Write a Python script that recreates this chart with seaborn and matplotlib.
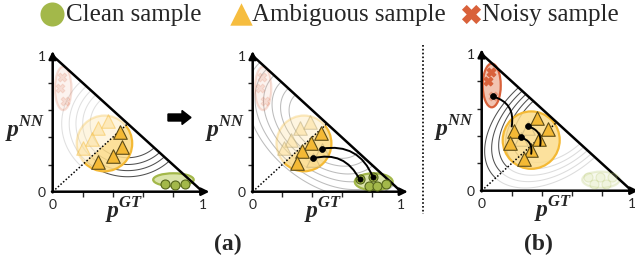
import numpy as np
import matplotlib
matplotlib.use('Agg')
import matplotlib.pyplot as plt
import matplotlib.patches as mpatches
import seaborn as sns

# ---- data ----
legend_labels = ['Clean sample', 'Ambiguous sample', 'Noisy sample']

# (a) left panel
clean_a1_x = [0.75, 0.815, 0.88]
clean_a1_y = [0.06, 0.05, 0.06]
amb_a1_x = [0.45, 0.46, 0.40, 0.30]
amb_a1_y = [0.44, 0.33, 0.26, 0.22]
amb_a1_ghost_x = [0.37, 0.30, 0.26, 0.20]
amb_a1_ghost_y = [0.52, 0.47, 0.385, 0.325]
noisy_ghost_x = [0.06, 0.05, 0.08]
noisy_ghost_y = [0.84, 0.76, 0.67]

# (a) right panel
amb_a2_x = [0.46, 0.39, 0.33, 0.30]
amb_a2_y = [0.43, 0.36, 0.30, 0.21]
amb_a2_ghost_x = [0.385, 0.32, 0.26, 0.21, 0.465, 0.405]
amb_a2_ghost_y = [0.515, 0.466, 0.38, 0.32, 0.31, 0.235]
clean_a2_x = [0.72, 0.81, 0.78, 0.84, 0.90]
clean_a2_y = [0.09, 0.106, 0.04, 0.04, 0.057]
move_a2_from = [(0.465, 0.316), (0.405, 0.245)]
move_a2_to = [(0.81, 0.106), (0.72, 0.09)]

# (b) panel
amb_b_x = [0.37, 0.44, 0.215, 0.384, 0.19, 0.33, 0.28]
amb_b_y = [0.53, 0.45, 0.44, 0.376, 0.35, 0.30, 0.23]
amb_b_ghost_x = [0.31, 0.26]
amb_b_ghost_y = [0.46, 0.38]
noisy_b_x = [0.06, 0.045]
noisy_b_y = [0.87, 0.80]
noisy_b_ghost_x = [0.073]
noisy_b_ghost_y = [0.69]
clean_b_ghost_x = [0.71, 0.79, 0.87, 0.75, 0.83]
clean_b_ghost_y = [0.10, 0.10, 0.10, 0.05, 0.05]
move_b_from = [(0.073, 0.69), (0.31, 0.47), (0.26, 0.39)]
move_b_to = [(0.20, 0.47), (0.39, 0.33), (0.33, 0.27)]

# contour levels of the loss surface
arc_a1_dark = [0.25, 0.30, 0.345, 0.39]
arc_a1_light = [0.25, 0.30, 0.345, 0.39, 0.44]
arc_a2 = [0.20, 0.245, 0.29, 0.335, 0.38, 0.425]
arc_b = [0.22, 0.255, 0.29, 0.325, 0.36]

GREEN, GREEN_E, GREEN_F = '#a3b84a', '#56661c', '#d6e19f'
YELLOW, YELLOW_E, YELLOW_F = '#f4b935', '#5c4b18', '#fcdc8c'
RED, RED_F = '#d9613a', '#f1bca7'

sns.set_style('white')
plt.rcParams['font.family'] = ['Liberation Serif', 'DejaVu Serif']
plt.rcParams['mathtext.fontset'] = 'custom'
plt.rcParams['mathtext.bf'] = 'Liberation Serif:bold:italic'

fig = plt.figure(figsize=(6.35, 2.65), dpi=100)
W, H = 635, 265


def make_axes(ox, oy, w, h):
    ax = fig.add_axes([ox / W, (H - oy) / H, w / W, h / H])
    ax.set_xlim(0, 1)
    ax.set_ylim(0, 1)
    ax.patch.set_visible(False)
    for s in ax.spines.values():
        s.set_visible(False)
    ax.set_xticks([0, 1])
    ax.set_xticklabels(['0', '1'])
    ax.set_yticks([0, 1])
    ax.set_yticklabels(['0', '1'])
    ax.set_xticks([0.2, 0.4, 0.6, 0.8], minor=True)
    ax.set_yticks([0.2, 0.4, 0.6, 0.8], minor=True)
    ax.tick_params(which='major', length=0, pad=5, labelsize=10,
                   bottom=True, left=True)
    ax.tick_params(which='minor', length=3.5, width=1, direction='out',
                   bottom=True, left=True)
    for lab in ax.get_xticklabels() + ax.get_yticklabels():
        lab.set_family('Lato')
    arrow = dict(arrowstyle='-|>,head_length=0.45,head_width=0.22', lw=1.8,
                 color='k', shrinkA=0, shrinkB=0)
    ax.annotate('', xy=(1.045, 0), xytext=(-0.005, 0), arrowprops=arrow,
                annotation_clip=False, zorder=4)
    ax.annotate('', xy=(0, 1.035), xytext=(0, -0.005), arrowprops=arrow,
                annotation_clip=False, zorder=4)
    ax.plot([0, 1], [1, 0], color='k', lw=1.8, zorder=4, clip_on=False)
    ax.plot([0, 0.5], [0, 0.5], color='k', lw=1.1, ls=(0, (1, 1.3)), zorder=4)
    ax.text(-0.185, 0.565, r'$\mathbf{p}^{\mathbf{NN}}$', ha='center',
            va='top', fontsize=17)
    ax.text(0.475, -0.03, r'$\mathbf{p}^{\mathbf{GT}}$', ha='center',
            va='top', fontsize=17)
    return ax


gx, gy = np.meshgrid(np.linspace(0, 1, 500), np.linspace(0, 1, 500))
gu = (gx + gy - 1) / np.sqrt(2)
gv = (gx - gy) / np.sqrt(2)


def arcs(ax, levels, ka, kb, side, color, lw=0.75):
    z = np.sqrt((gu / ka) ** 2 + (gv / kb) ** 2)
    mask = gx + gy > 1
    if side == 'below':
        mask |= gy > gx
    elif side == 'above':
        mask |= gy < gx
    ax.contour(gx, gy, np.ma.masked_where(mask, z), levels=levels,
               colors=color, linewidths=lw, zorder=0.5)


def blob(ax, c, w, h, fc, ec, alpha=1.0, side=None, angle=0, fa=0.88):
    fill = mpatches.Ellipse(c, w, h, angle=angle, facecolor=fc,
                            edgecolor='none', alpha=alpha * fa, zorder=1)
    edge = mpatches.Ellipse(c, w, h, angle=angle, facecolor='none',
                            edgecolor=ec, lw=1.6, alpha=alpha, zorder=1.1)
    for e in (fill, edge):
        ax.add_patch(e)
        if side is not None:
            verts = [(-1, -1), (2, 2), (2, -1)] if side == 'below' else [(-1, -1), (2, 2), (-1, 2)]
            e.set_clip_path(mpatches.Polygon(verts, transform=ax.transData))


def pts(ax, x, y, marker, s, fc, ec, alpha=1.0, lw=0.8, z=5):
    sns.scatterplot(x=x, y=y, ax=ax, marker=marker, s=s, color=fc,
                    edgecolor=ec, linewidth=lw, alpha=alpha, zorder=z,
                    legend=False)


def moves(ax, starts, ends, rad, end_dot):
    for p0, p1 in zip(starts, ends):
        ax.annotate('', xy=p1, xytext=p0,
                    arrowprops=dict(arrowstyle='-', lw=1.4, color='k',
                                    shrinkA=0, shrinkB=0,
                                    connectionstyle='arc3,rad=%s' % rad),
                    zorder=6)
    sx, sy = zip(*starts)
    pts(ax, list(sx), list(sy), 'o', 18, 'k', 'k', z=7, lw=0.5)
    if end_dot:
        ex, ey = zip(*ends)
        pts(ax, list(ex), list(ey), 'o', 14, 'k', 'k', z=7, lw=0.5)


# ---- (a) left ----
ax1 = make_axes(52.7, 191.7, 150, 136)
arcs(ax1, arc_a1_light, 1.0, 1.0, 'above', '#e0e0e0')
arcs(ax1, arc_a1_dark, 1.0, 1.0, 'below', '#505050')
blob(ax1, (0.07, 0.76), 0.11, 0.32, RED_F, RED, alpha=0.2)
pts(ax1, noisy_ghost_x, noisy_ghost_y, 'X', 40, RED, RED, alpha=0.15)
blob(ax1, (0.345, 0.355), 0.37, 0.41, YELLOW_F, YELLOW, alpha=0.3, side='above')
blob(ax1, (0.345, 0.355), 0.37, 0.41, YELLOW_F, YELLOW, side='below')
pts(ax1, amb_a1_ghost_x, amb_a1_ghost_y, '^', 95, YELLOW_F, YELLOW, alpha=0.45)
pts(ax1, amb_a1_x, amb_a1_y, '^', 95, YELLOW, YELLOW_E)
blob(ax1, (0.805, 0.088), 0.27, 0.095, GREEN_F, GREEN)
pts(ax1, clean_a1_x, clean_a1_y, 'o', 42, GREEN, GREEN_E)

# ---- (a) right ----
ax2 = make_axes(252.7, 191.7, 148.5, 136)
arcs(ax2, arc_a2, 1.0, 1.5, 'all', '#bcbcbc')
blob(ax2, (0.07, 0.76), 0.11, 0.32, RED_F, RED, alpha=0.2)
pts(ax2, noisy_ghost_x, noisy_ghost_y, 'X', 40, RED, RED, alpha=0.15)
blob(ax2, (0.345, 0.355), 0.37, 0.41, YELLOW_F, YELLOW, alpha=0.3, side='above')
blob(ax2, (0.345, 0.355), 0.37, 0.41, YELLOW_F, YELLOW, side='below')
pts(ax2, amb_a2_ghost_x, amb_a2_ghost_y, '^', 95, YELLOW_F, '#b0a070', alpha=0.45)
pts(ax2, amb_a2_x, amb_a2_y, '^', 95, YELLOW, YELLOW_E)
blob(ax2, (0.815, 0.073), 0.255, 0.125, GREEN_F, GREEN)
pts(ax2, clean_a2_x, clean_a2_y, 'o', 42, GREEN, GREEN_E)
moves(ax2, move_a2_from, move_a2_to, -0.4, True)

# ---- (b) ----
ax3 = make_axes(481.7, 190.7, 150, 136.7)
arcs(ax3, arc_b, 1.6, 1.0, 'below', '#dcdcdc')
arcs(ax3, arc_b, 1.6, 1.0, 'above', '#505050')
blob(ax3, (0.795, 0.08), 0.25, 0.12, GREEN_F, GREEN, alpha=0.2)
pts(ax3, clean_b_ghost_x, clean_b_ghost_y, 'o', 42, GREEN_F, GREEN, alpha=0.2)
blob(ax3, (0.33, 0.37), 0.38, 0.42, YELLOW_F, YELLOW, fa=0.85)
blob(ax3, (0.067, 0.77), 0.12, 0.32, RED_F, RED)
pts(ax3, noisy_b_x, noisy_b_y, 'X', 40, RED, RED)
pts(ax3, noisy_b_ghost_x, noisy_b_ghost_y, 'X', 40, RED, RED, alpha=0.3)
pts(ax3, amb_b_ghost_x, amb_b_ghost_y, '^', 95, YELLOW_F, '#b0a070', alpha=0.45)
pts(ax3, amb_b_x, amb_b_y, '^', 95, YELLOW, YELLOW_E)
moves(ax3, move_b_from, move_b_to, -0.45, False)

# ---- overlay: legend, arrow, separator, captions ----
ax0 = fig.add_axes([0, 0, 1, 1])
ax0.set_xlim(0, W)
ax0.set_ylim(H, 0)
ax0.set_axis_off()
leg_markers = ['o', '^', 'X']
leg_colors = [GREEN, '#f6bd3f', RED]
leg_marker_x = [51.5, 241, 471]
leg_text_x = [66, 252, 482]
for lab, m, c, mx, tx, s in zip(legend_labels, leg_markers, leg_colors,
                                leg_marker_x, leg_text_x, [300, 260, 190]):
    sns.scatterplot(x=[mx], y=[13.5], ax=ax0, marker=m, s=s, color=c,
                    edgecolor=c, linewidth=0, legend=False)
    ax0.text(tx, 20.5, lab, fontsize=18, va='baseline', ha='left',
             family='Liberation Serif')
ax0.add_patch(mpatches.FancyArrow(168, 117.5, 23, 0, width=7, head_width=14,
                                  head_length=9, length_includes_head=True,
                                  color='k'))
ax0.plot([422.7, 422.7], [45, 214], color='k', lw=1.2, ls=(0, (1, 1.3)))
ax0.text(228, 244, '(a)', fontsize=17, fontweight='bold', ha='center',
         va='center', family='Liberation Serif')
ax0.text(538, 244, '(b)', fontsize=17, fontweight='bold', ha='center',
         va='center', family='Liberation Serif')

fig.savefig('out.png', dpi=100)
